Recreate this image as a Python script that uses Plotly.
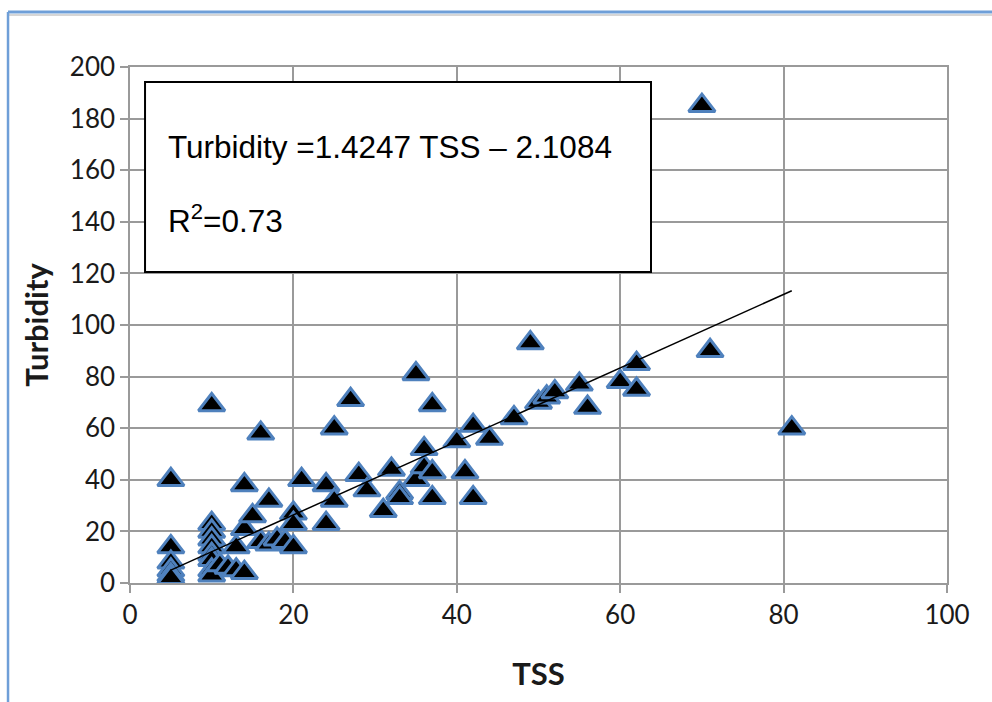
import plotly.graph_objects as go

# TSS vs turbidity samples
tss = [5, 5, 5, 5, 5, 5,
       10, 10, 10, 10, 10, 10, 10, 10, 10,
       11, 12, 13, 14,
       13, 14, 14, 15, 16, 16, 17, 17, 18, 19,
       20, 20, 20, 21,
       24, 24, 25, 25, 27, 28, 29, 31, 32, 33, 33,
       35, 35, 36, 36, 37, 37, 37,
       40, 41, 42, 42, 44, 47, 49, 50, 51, 52,
       55, 56, 60, 62, 62, 70, 71, 81]
turbidity = [40, 14, 8, 5, 3, 2,
             69, 23, 20, 17, 14, 11, 9, 5, 3,
             7, 6, 5, 4,
             14, 21, 38, 26, 58, 16, 15, 32, 17, 16,
             27, 23, 14, 40,
             38, 23, 32, 60, 71, 42, 36, 28, 44, 35, 33,
             40, 81, 52, 45, 43, 33, 69,
             55, 43, 33, 61, 56, 64, 93, 70, 72, 74,
             77, 68, 78, 85, 75, 185, 90, 60]

# Linear fit reported in the box
slope = 1.4247
intercept = -2.1084
r_squared = 0.73
fit_x = [min(tss), max(tss)]
fit_y = [slope * v + intercept for v in fit_x]

x_ticks = [0, 20, 40, 60, 80, 100]
y_ticks = [0, 20, 40, 60, 80, 100, 120, 140, 160, 180, 200]

GRID = "#9a9a9a"
TICK_FONT = dict(family="Lato", size=26, color="#1a1a1a")
TITLE_FONT = dict(family="Lato", size=31, color="#1a1a1a", weight="bold")
BOX_FONT = dict(family="Liberation Sans", size=31.5, color="black")

fig = go.Figure()

fig.add_trace(go.Scatter(
    x=tss, y=turbidity, mode="markers",
    marker=dict(symbol="triangle-up", size=23, color="black",
                line=dict(color="#4f81bd", width=3)),
    showlegend=False, hoverinfo="x+y",
))

fig.add_trace(go.Scatter(
    x=fit_x, y=fit_y, mode="lines",
    line=dict(color="black", width=1.5),
    showlegend=False, hoverinfo="skip",
))

fig.update_layout(
    width=992, height=702,
    margin=dict(l=130, r=45, t=67, b=119),
    paper_bgcolor="white", plot_bgcolor="white",
    xaxis=dict(
        range=[0, 100], tickvals=x_ticks, ticktext=[str(v) for v in x_ticks],
        showgrid=True, gridcolor=GRID, gridwidth=1.5,
        zeroline=False, showline=True, linecolor=GRID, linewidth=1.5, mirror=True,
        ticks="outside", ticklen=8, tickcolor=GRID, tickwidth=1.5,
        tickfont=TICK_FONT,
        title=dict(text="TSS", font=TITLE_FONT, standoff=34),
    ),
    yaxis=dict(
        range=[0, 200], tickvals=y_ticks, ticktext=[str(v) for v in y_ticks],
        showgrid=True, gridcolor=GRID, gridwidth=1.5,
        zeroline=False, showline=True, linecolor=GRID, linewidth=1.5, mirror=True,
        ticks="outside", ticklen=8, tickcolor=GRID, tickwidth=1.5,
        tickfont=TICK_FONT,
        title=dict(text="Turbidity", font=TITLE_FONT, standoff=12),
    ),
    shapes=[
        # equation box
        dict(type="rect", xref="paper", yref="paper",
             x0=0.0184, x1=0.6377, y0=0.6027, y1=0.971,
             line=dict(color="black", width=2), fillcolor="white", layer="above"),
        # frame around the chart
        dict(type="line", xref="paper", yref="paper",
             x0=-0.1493, x1=1.06, y0=1.1066, y1=1.1066,
             line=dict(color="#6f9fd8", width=3)),
        dict(type="line", xref="paper", yref="paper",
             x0=-0.1493, x1=1.06, y0=1.1008, y1=1.1008,
             line=dict(color="#c8c8c8", width=1.5)),
        dict(type="line", xref="paper", yref="paper",
             x0=-0.1493, x1=-0.1493, y0=-0.25, y1=1.1066,
             line=dict(color="#6f9fd8", width=2.5)),
    ],
    annotations=[
        dict(xref="paper", yref="paper", x=0.0435, y=0.844,
             xanchor="left", yanchor="middle", showarrow=False,
             text=f"Turbidity ={slope} TSS \u2013 {abs(intercept)}",
             font=BOX_FONT),
        dict(xref="paper", yref="paper", x=0.0435, y=0.705,
             xanchor="left", yanchor="middle", showarrow=False,
             text=f"R<sup>2</sup>={r_squared}",
             font=BOX_FONT),
    ],
)

fig.write_html("out.html")
